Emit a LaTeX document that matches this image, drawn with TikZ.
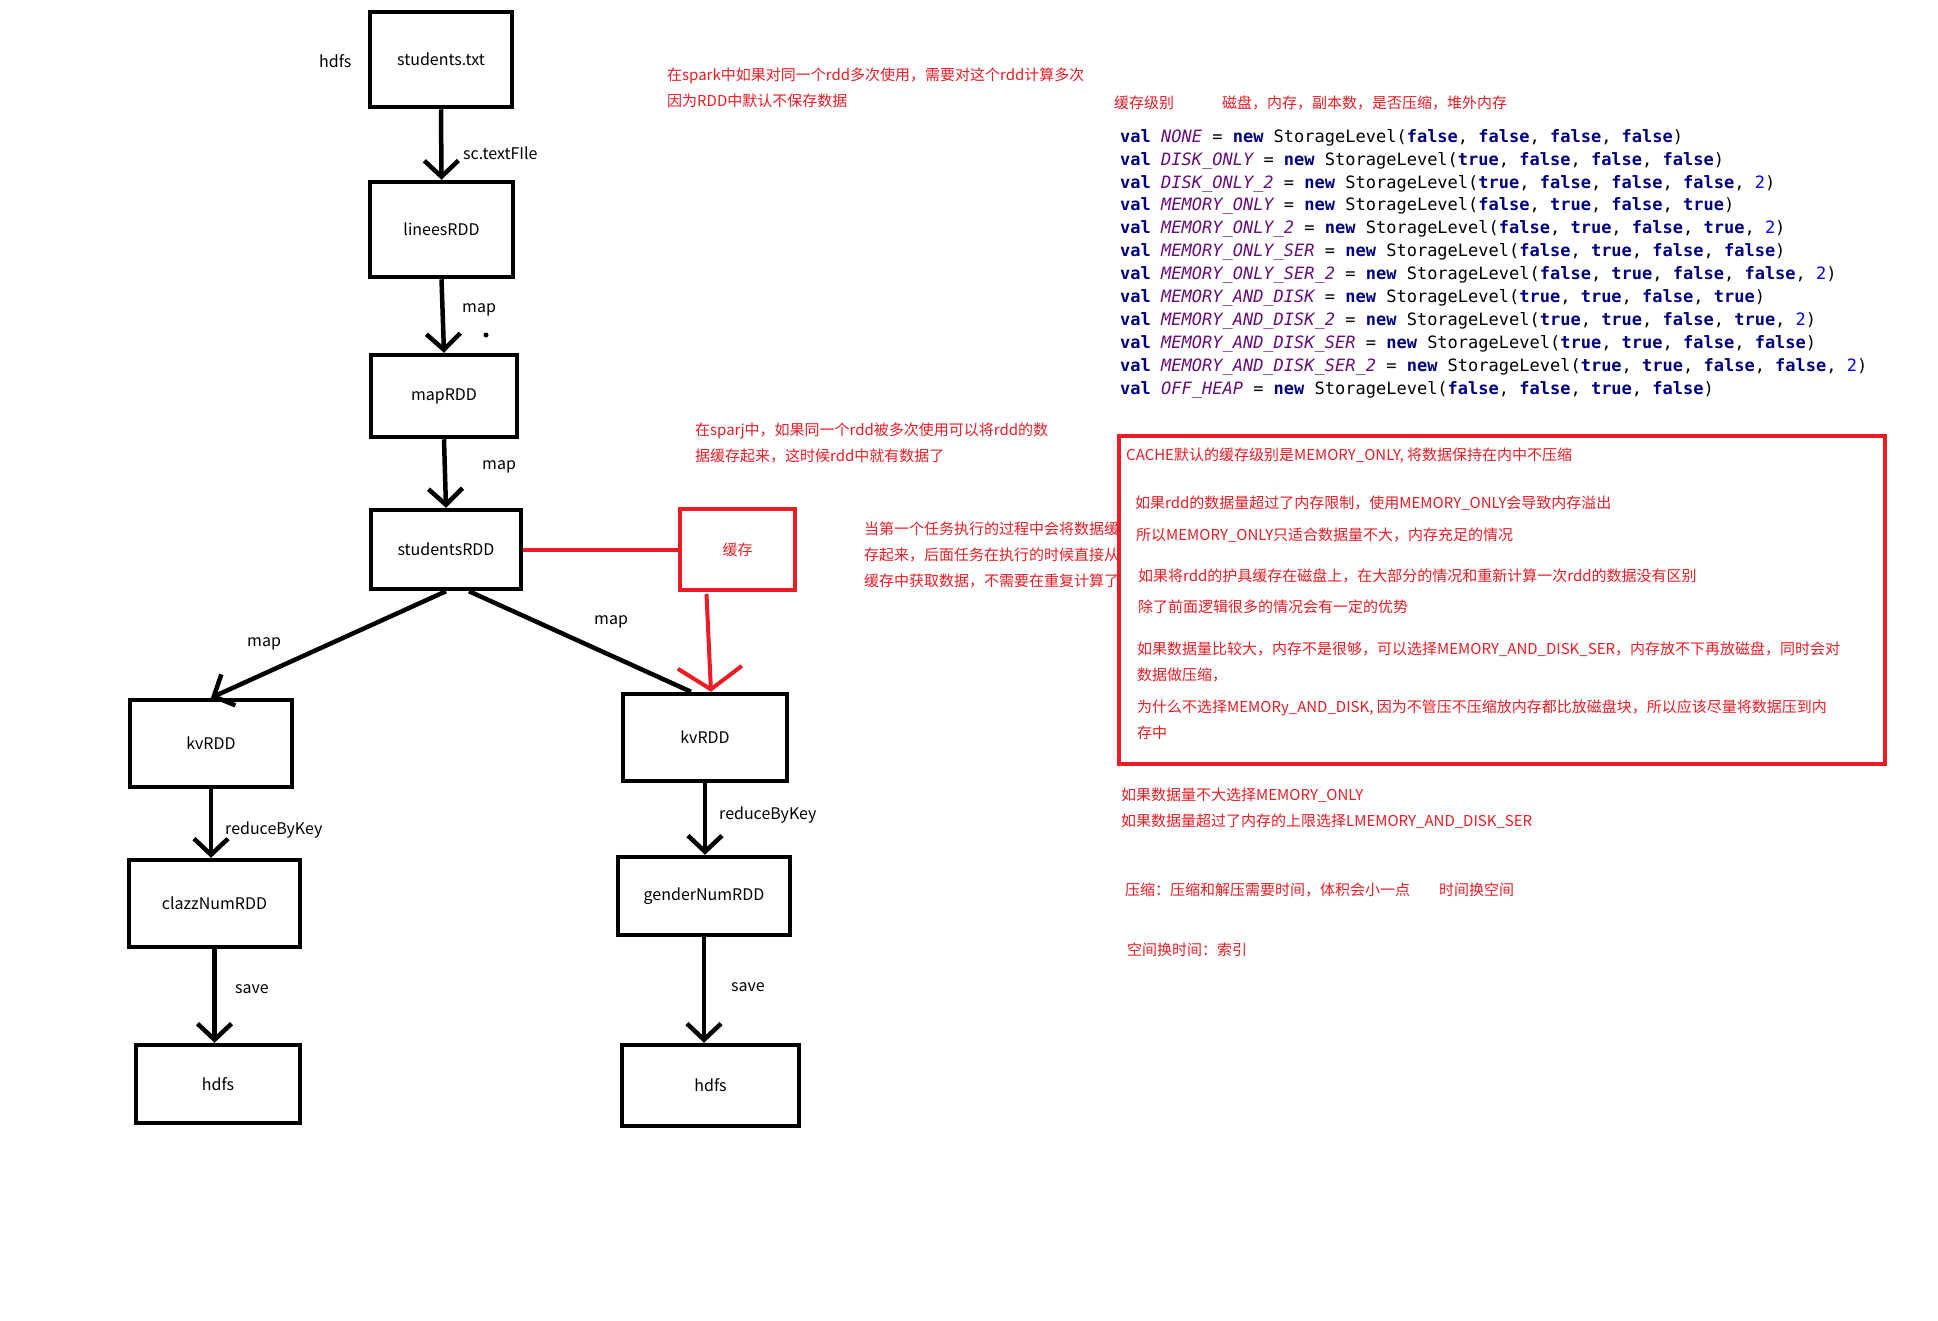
\documentclass[tikz,border=0pt]{standalone}
\usepackage{fontspec}
\newfontfamily\cjk{Noto Sans CJK SC}
\newfontfamily\codefont{DejaVu Sans Mono}
\usetikzlibrary{arrows.meta}
\definecolor{notered}{RGB}{237,28,36}
\definecolor{codekw}{RGB}{0,0,128}
\definecolor{codeconst}{RGB}{102,14,122}
\definecolor{codenum}{RGB}{0,0,255}
\newcommand{\kwd}[1]{{\color{codekw}\bfseries #1}}
\newcommand{\cst}[1]{{\color{codeconst}\itshape #1}}
\newcommand{\nbr}[1]{{\color{codenum}#1}}
\newcommand{\ctrue}{\kwd{true}}
\newcommand{\cfalse}{\kwd{false}}

\begin{document}
\begin{tikzpicture}[x=1pt, y=-1pt,
  rddbox/.style={draw, line width=4.5pt, font=\cjk\fontsize{16}{18}\selectfont},
  cachebox/.style={draw=notered, line width=4pt, text=notered, font=\cjk\fontsize{15}{17}\selectfont},
  lbl/.style={anchor=west, inner sep=0pt, font=\cjk\fontsize{16}{18}\selectfont},
  note/.style={anchor=west, inner sep=0pt, align=left, text=notered, font=\cjk\fontsize{15}{26}\selectfont},
  flow/.style={line width=4.5pt, -{Straight Barb[length=16pt,width=34pt]}},
  redflow/.style={draw=notered, line width=4pt, -{Straight Barb[length=22pt,width=64pt]}}
  ]
  \fill[white] (0,0) rectangle (1938,1320);
  \useasboundingbox (0,0) rectangle (1938,1320);

  % rdd chain
  \node[rddbox, minimum width=142pt, minimum height=95pt] (students) at (441,59.5) {students.txt};
  \node[rddbox, minimum width=143pt, minimum height=95pt] (linees) at (441.5,229.5) {lineesRDD};
  \node[rddbox, minimum width=146pt, minimum height=82pt] (maprdd) at (444,396) {mapRDD};
  \node[rddbox, minimum width=150pt, minimum height=79pt] (studentsrdd) at (446,549.5) {studentsRDD};
  \node[cachebox, minimum width=115pt, minimum height=81pt] (cache) at (737.5,549.5) {缓存};
  \node[rddbox, minimum width=162pt, minimum height=87pt] (kvleft) at (211,743.5) {kvRDD};
  \node[rddbox, minimum width=164pt, minimum height=87pt] (kvright) at (705,737.5) {kvRDD};
  \node[rddbox, minimum width=171pt, minimum height=87pt] (clazznum) at (214.5,903.5) {clazzNumRDD};
  \node[rddbox, minimum width=172pt, minimum height=78pt] (gendernum) at (704,896) {genderNumRDD};
  \node[rddbox, minimum width=164pt, minimum height=78pt] (hdfsleft) at (218,1084) {hdfs};
  \node[rddbox, minimum width=177pt, minimum height=81pt] (hdfsright) at (710.5,1085.5) {hdfs};

  \node[lbl] (srclbl) at (319,61) {hdfs};
  \node[lbl] (readlbl) at (463,153) {sc.textFIle};
  \node[lbl] (maplbl1) at (462,310) {map};
  \node[lbl] (maplbl2) at (482,467) {map};
  \node[lbl] (maplbl3) at (247,644) {map};
  \node[lbl] (maplbl4) at (594,622) {map};
  \node[lbl] (reducelbl1) at (225,830) {reduceByKey};
  \node[lbl] (reducelbl2) at (719,815) {reduceByKey};
  \node[lbl] (savelbl1) at (235,989) {save};
  \node[lbl] (savelbl2) at (731,987) {save};
  \fill (486,335) circle (2.5);

  \draw[flow] (students.south) -- (linees.north);
  \draw[flow] (linees.south) -- (maprdd.north);
  \draw[flow] (maprdd.south) -- (studentsrdd.north);
  \draw[flow] (studentsrdd.south) -- (kvleft.north);
  \draw[line width=4.5pt] ([xshift=23pt]studentsrdd.south) -- ([xshift=-14pt]kvright.north);
  \draw[flow] (kvleft.south) -- (kvleft.south |- clazznum.north);
  \draw[flow] (clazznum.south) -- (clazznum.south |- hdfsleft.north);
  \draw[flow] (kvright.south) -- (kvright.south |- gendernum.north);
  \draw[flow] (gendernum.south) -- (gendernum.south |- hdfsright.north);
  \draw[draw=notered, line width=4pt] (studentsrdd.east) -- (cache.west);
  \draw[redflow] ([xshift=-31pt,yshift=-2pt]cache.south) -- ([xshift=6pt]kvright.north);

  % notes
  \node[note] (note1) at (667,88) {在spark中如果对同一个rdd多次使用，需要对这个rdd计算多次\\因为RDD中默认不保存数据};
  \node[note] (levellbl) at (1114,103) {缓存级别};
  \node[note] (levelcols) at (1222,103) {磁盘，内存，副本数，是否压缩，堆外内存};
  \node[note] (note2) at (695,443) {在sparj中，如果同一个rdd被多次使用可以将rdd的数\\据缓存起来，这时候rdd中就有数据了};
  \node[note] (note3) at (864,555) {当第一个任务执行的过程中会将数据缓\\存起来，后面任务在执行的时候直接从\\缓存中获取数据，不需要在重复计算了};

  \node[anchor=north west, inner sep=0pt, align=left, font=\codefont\fontsize{17}{22.9}\selectfont] (levels) at (1120,129) {%
    \kwd{val} \cst{NONE} = \kwd{new} StorageLevel(\cfalse, \cfalse, \cfalse, \cfalse)\\
    \kwd{val} \cst{DISK\_ONLY} = \kwd{new} StorageLevel(\ctrue, \cfalse, \cfalse, \cfalse)\\
    \kwd{val} \cst{DISK\_ONLY\_2} = \kwd{new} StorageLevel(\ctrue, \cfalse, \cfalse, \cfalse, \nbr{2})\\
    \kwd{val} \cst{MEMORY\_ONLY} = \kwd{new} StorageLevel(\cfalse, \ctrue, \cfalse, \ctrue)\\
    \kwd{val} \cst{MEMORY\_ONLY\_2} = \kwd{new} StorageLevel(\cfalse, \ctrue, \cfalse, \ctrue, \nbr{2})\\
    \kwd{val} \cst{MEMORY\_ONLY\_SER} = \kwd{new} StorageLevel(\cfalse, \ctrue, \cfalse, \cfalse)\\
    \kwd{val} \cst{MEMORY\_ONLY\_SER\_2} = \kwd{new} StorageLevel(\cfalse, \ctrue, \cfalse, \cfalse, \nbr{2})\\
    \kwd{val} \cst{MEMORY\_AND\_DISK} = \kwd{new} StorageLevel(\ctrue, \ctrue, \cfalse, \ctrue)\\
    \kwd{val} \cst{MEMORY\_AND\_DISK\_2} = \kwd{new} StorageLevel(\ctrue, \ctrue, \cfalse, \ctrue, \nbr{2})\\
    \kwd{val} \cst{MEMORY\_AND\_DISK\_SER} = \kwd{new} StorageLevel(\ctrue, \ctrue, \cfalse, \cfalse)\\
    \kwd{val} \cst{MEMORY\_AND\_DISK\_SER\_2} = \kwd{new} StorageLevel(\ctrue, \ctrue, \cfalse, \cfalse, \nbr{2})\\
    \kwd{val} \cst{OFF\_HEAP} = \kwd{new} StorageLevel(\cfalse, \cfalse, \ctrue, \cfalse)};

  % red frame
  \node[draw=notered, line width=4pt, fill=white, minimum width=766pt, minimum height=328pt] (cachenotes) at (1502,600) {};
  \node[note] (p1) at (1126,456) {CACHE默认的缓存级别是MEMORY\_ONLY, 将数据保持在内中不压缩};
  \node[note] (p2) at (1135,503) {如果rdd的数据量超过了内存限制，使用MEMORY\_ONLY会导致内存溢出};
  \node[note] (p3) at (1136,535) {所以MEMORY\_ONLY只适合数据量不大，内存充足的情况};
  \node[note] (p4) at (1138,576) {如果将rdd的护具缓存在磁盘上，在大部分的情况和重新计算一次rdd的数据没有区别};
  \node[note] (p5) at (1138,607) {除了前面逻辑很多的情况会有一定的优势};
  \node[note] (p6) at (1137,662) {如果数据量比较大，内存不是很够，可以选择MEMORY\_AND\_DISK\_SER，内存放不下再放磁盘，同时会对\\数据做压缩，};
  \node[note] (p7) at (1137,720) {为什么不选择MEMORy\_AND\_DISK, 因为不管压不压缩放内存都比放磁盘块，所以应该尽量将数据压到内\\存中};

  \node[note] (p8) at (1121,795) {如果数据量不大选择MEMORY\_ONLY};
  \node[note] (p9) at (1121,821) {如果数据量超过了内存的上限选择LMEMORY\_AND\_DISK\_SER};
  \node[note] (p10) at (1125,890) {压缩：压缩和解压需要时间，体积会小一点};
  \node[note] (p11) at (1439,890) {时间换空间};
  \node[note] (p12) at (1127,950) {空间换时间：索引};
\end{tikzpicture}
\end{document}
